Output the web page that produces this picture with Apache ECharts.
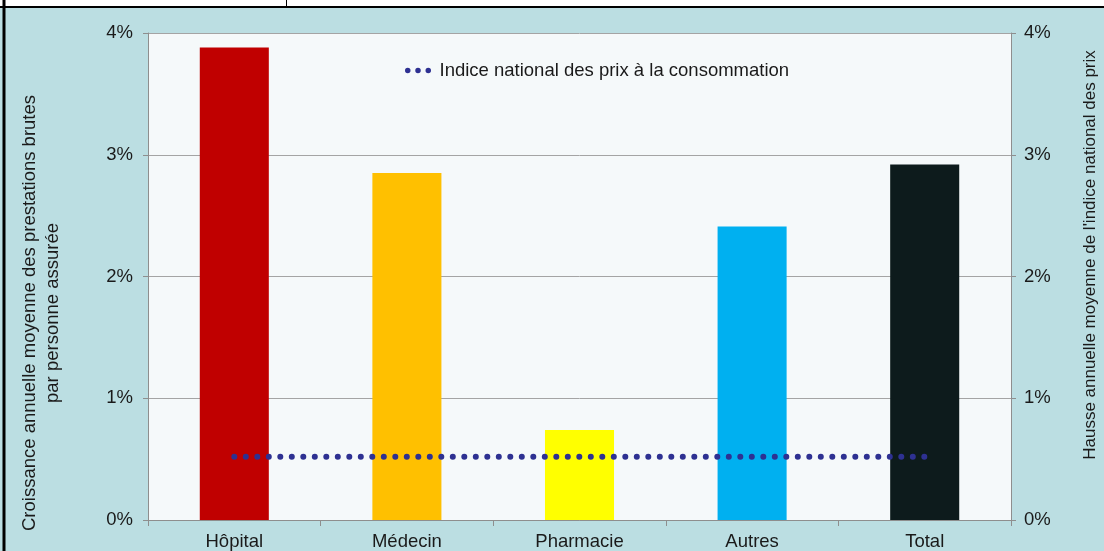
<!DOCTYPE html>
<html>
<head>
<meta charset="utf-8">
<script src="https://cdn.jsdelivr.net/npm/echarts@6/dist/echarts.min.js"></script>
<style>
  html, body { margin: 0; padding: 0; background: #ffffff; }
  #chart { width: 1104px; height: 551px; }
</style>
</head>
<body>
<div id="chart"></div>
<script>
// Categories of health benefits and their average annual growth (%)
const categories = ['Hôpital', 'Médecin', 'Pharmacie', 'Autres', 'Total'];
const growth = [3.88, 2.85, 0.74, 2.41, 2.92];
const barColors = ['#c00000', '#ffc000', '#ffff00', '#00b0f0', '#0d1b1c'];
// Average annual rise of the consumer price index (%)
const cpi = [0.52, 0.52, 0.52, 0.52, 0.52];
const cpiName = 'Indice national des prix à la consommation';
const yTicks = [0, 1, 2, 3, 4];

const font = '"Liberation Sans", Arial, sans-serif';
const fontSize = 18.5;
const textColor = '#1a1a1a';
const axisGray = '#8e8e8e';
const dotColor = '#2e3192';

const chart = echarts.init(document.getElementById('chart'), null, { renderer: 'canvas' });

const valueAxis = (pos) => ({
  type: 'value',
  position: pos,
  min: yTicks[0],
  max: yTicks[yTicks.length - 1],
  interval: 1,
  axisLine: { show: true, lineStyle: { color: axisGray, width: 1 } },
  axisTick: { show: true, length: 5, lineStyle: { color: axisGray } },
  axisLabel: {
    margin: pos === 'left' ? 15 : 13,
    color: textColor, fontFamily: font, fontSize: fontSize,
    formatter: v => v + '%'
  },
  splitLine: { show: pos === 'left', lineStyle: { color: '#a4a4a4', width: 1 } }
});

chart.setOption({
  backgroundColor: '#bbdee2',
  animation: false,
  grid: {
    left: 148, right: 93, top: 33, bottom: 31,
    show: true, backgroundColor: '#f5f9fa', borderWidth: 0
  },
  legend: {
    data: [{
      name: cpiName,
      icon: 'path://M0,2.75a2.75,2.75 0 1,0 5.5,0a2.75,2.75 0 1,0 -5.5,0Z M10.25,2.75a2.75,2.75 0 1,0 5.5,0a2.75,2.75 0 1,0 -5.5,0Z M20.5,2.75a2.75,2.75 0 1,0 5.5,0a2.75,2.75 0 1,0 -5.5,0Z'
    }],
    left: 400, top: 56,
    itemWidth: 27, itemHeight: 5.5, itemGap: 10,
    textStyle: { color: textColor, fontFamily: font, fontSize: fontSize, padding: [0, 0, 0, 3] },
    itemStyle: { color: dotColor }
  },
  xAxis: {
    type: 'category',
    data: categories,
    axisLine: { show: true, lineStyle: { color: axisGray, width: 1 } },
    axisTick: { show: true, length: 6, alignWithLabel: false, lineStyle: { color: axisGray } },
    axisLabel: { margin: 12, color: textColor, fontFamily: font, fontSize: fontSize }
  },
  yAxis: [valueAxis('left'), valueAxis('right')],
  series: [
    {
      type: 'bar',
      data: growth.map((v, i) => ({ value: v, itemStyle: { color: barColors[i] } })),
      barWidth: '40%',
      yAxisIndex: 0
    },
    {
      name: cpiName,
      type: 'line',
      data: cpi,
      yAxisIndex: 1,
      symbol: 'none',
      lineStyle: { color: dotColor, width: 6, type: [0, 11.5], cap: 'round' },
      itemStyle: { color: dotColor },
      z: 5
    }
  ],
  graphic: [
    // page frame: white strip and black rules at the top and left
    { type: 'rect', shape: { x: 0, y: 0, width: 1104, height: 7 }, style: { fill: '#ffffff' }, silent: true },
    { type: 'line', shape: { x1: 0, y1: 7, x2: 1104, y2: 7 }, style: { stroke: '#000000', lineWidth: 2 }, silent: true },
    { type: 'line', shape: { x1: 4, y1: 0, x2: 4, y2: 551 }, style: { stroke: '#000000', lineWidth: 3 }, silent: true },
    { type: 'line', shape: { x1: 286.5, y1: 0, x2: 286.5, y2: 7 }, style: { stroke: '#000000', lineWidth: 1 }, silent: true },
    // left axis title
    {
      type: 'text', x: 41.5, y: 313, rotation: Math.PI / 2,
      style: {
        text: 'Croissance annuelle moyenne des prestations brutes\npar personne assurée',
        font: fontSize + 'px ' + font, fill: textColor, align: 'center', verticalAlign: 'middle', lineHeight: 23
      },
      silent: true
    },
    // right axis title
    {
      type: 'text', x: 1100.5, y: 255, rotation: Math.PI / 2,
      style: {
        text: 'Hausse annuelle moyenne de l\'indice national des prix\nà la consommation',
        font: '17px ' + font, fill: textColor, align: 'center', verticalAlign: 'middle', lineHeight: 21
      },
      silent: true
    }
  ]
});
</script>
</body>
</html>
